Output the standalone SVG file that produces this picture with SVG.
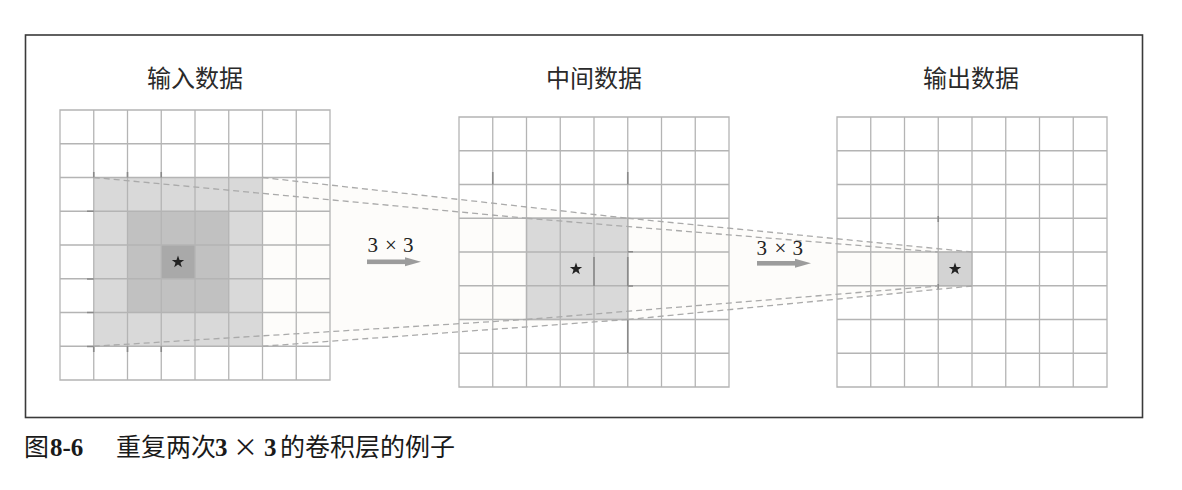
<svg xmlns="http://www.w3.org/2000/svg" width="1182" height="490" viewBox="0 0 1182 490">
<style>
.title{font-family:"Noto Sans CJK SC","Noto Sans",sans-serif;font-size:24px;fill:#2a2a2a;text-anchor:middle}
.grid{fill:none;stroke:#b4b4b4;stroke-width:1.3}
.dash{fill:none;stroke:#aaaaaa;stroke-width:1.3;stroke-dasharray:6 4}
.num{font-family:"Liberation Serif",serif;font-size:21px;fill:#222}
.tick{stroke:#8a8a8a;stroke-width:1.6}
.cap{font-family:"Noto Sans CJK SC",sans-serif;font-size:25px;font-weight:400;fill:#1a1a1a}
.capn{font-family:"Liberation Serif",serif;font-size:25px;font-weight:bold;fill:#1a1a1a}
.arrow{fill:#9c9c9c}
</style>
<defs>
<path id="gridlines" d="M0 0H270V270H0Z M33.75 0V270 M67.5 0V270 M101.25 0V270 M135 0V270 M168.75 0V270 M202.5 0V270 M236.25 0V270 M0 33.75H270 M0 67.5H270 M0 101.25H270 M0 135H270 M0 168.75H270 M0 202.5H270 M0 236.25H270"/>
<path id="star" d="M0,-6.5 L1.53,-2.1 L6.18,-2.01 L2.47,0.8 L3.82,5.26 L0,2.6 L-3.82,5.26 L-2.47,0.8 L-6.18,-2.01 L-1.53,-2.1 Z" fill="#222"/>
</defs>
<rect width="1182" height="490" fill="#fff"/>
<g id="frame"><rect x="25.5" y="35" width="1117" height="382.5" fill="none" stroke="#3a3a3a" stroke-width="1.6"/></g>
<g id="shadows">
<polygon points="262.5,177.5 627.75,218.25 627.75,319.5 262.5,346.25" fill="#fdfcfa"/>
<polygon points="627.75,218.25 972,252 972,286 627.75,319.5" fill="#fdfcfa"/>
</g>
<g id="input">
<text class="title" x="195" y="87">输入数据</text>
<rect x="93.75" y="177.5" width="168.75" height="168.75" fill="#d9d9d9"/>
<rect x="127.5" y="211.25" width="101.25" height="101.25" fill="#c1c1c1"/>
<rect x="161.25" y="245" width="33.75" height="33.75" fill="#a9a9a9"/>
<use href="#gridlines" x="60" y="110" class="grid"/>
<path class="tick" d="M93.75 172V177.5 M127.5 172V177.5 M161.25 172V177.5 M87 211.25H93.75 M87 279H93.75 M87 312.5H93.75 M87 346.5H93.75 M93.75 346.25V352 M127.5 346.25V352 M161.25 346.25V352"/>
<use href="#star" x="178" y="262"/>
</g>
<g id="middle">
<text class="title" x="594" y="87">中间数据</text>
<rect x="526.5" y="218.25" width="101.25" height="101.25" fill="#d9d9d9" stroke="#a2a2a2" stroke-width="1.2"/>
<use href="#gridlines" x="459" y="117" class="grid"/>
<path class="tick" d="M492.75 172V184.5 M627.75 172V184.5 M627.75 257V286 M594 257V286 M627.75 251.7H633 M627.75 286H633 M627.75 319.5V353"/>
<use href="#star" x="576" y="269"/>
</g>
<g id="output">
<text class="title" x="971" y="87">输出数据</text>
<rect x="938.25" y="252" width="33.75" height="34" fill="#d3d3d3" stroke="#c4c4c4" stroke-width="1"/>
<use href="#gridlines" x="837" y="117" class="grid"/>
<path class="tick" d="M938.25 216V222 M938.25 284V290"/>
<use href="#star" x="955" y="269"/>
</g>
<g id="connectors">
<line class="dash" x1="93.75" y1="177.5" x2="526.5" y2="218.25"/>
<line class="dash" x1="262.5" y1="177.5" x2="627.75" y2="218.25"/>
<line class="dash" x1="93.75" y1="346.25" x2="526.5" y2="319.5"/>
<line class="dash" x1="262.5" y1="346.25" x2="627.75" y2="319.5"/>
<line class="dash" x1="526.5" y1="218.25" x2="938.25" y2="252"/>
<line class="dash" x1="627.75" y1="218.25" x2="972" y2="252"/>
<line class="dash" x1="526.5" y1="319.5" x2="938.25" y2="286"/>
<line class="dash" x1="627.75" y1="319.5" x2="972" y2="286"/>
</g>
<g id="arrow1">
<text class="num" y="252"><tspan x="367.5">3</tspan><tspan x="385">×</tspan><tspan x="403">3</tspan></text>
<rect class="arrow" x="367" y="259.5" width="40" height="4.6"/>
<polygon class="arrow" points="405,257.3 421,261.8 405,266.3"/>
</g>
<g id="arrow2">
<text class="num" y="254.5"><tspan x="756.5">3</tspan><tspan x="774.5">×</tspan><tspan x="792.5">3</tspan></text>
<rect class="arrow" x="757" y="261" width="40" height="4.6"/>
<polygon class="arrow" points="795,258.8 811,263.3 795,267.8"/>
</g>
<g id="caption">
<text y="456"><tspan class="cap" x="24">图</tspan><tspan class="capn" x="50">8-6</tspan><tspan class="cap" x="116">重复两次</tspan><tspan class="capn" x="215">3</tspan><tspan class="cap" x="233">×</tspan><tspan class="capn" x="264">3</tspan><tspan class="cap" x="280">的卷积层的例子</tspan></text>
</g>
</svg>
